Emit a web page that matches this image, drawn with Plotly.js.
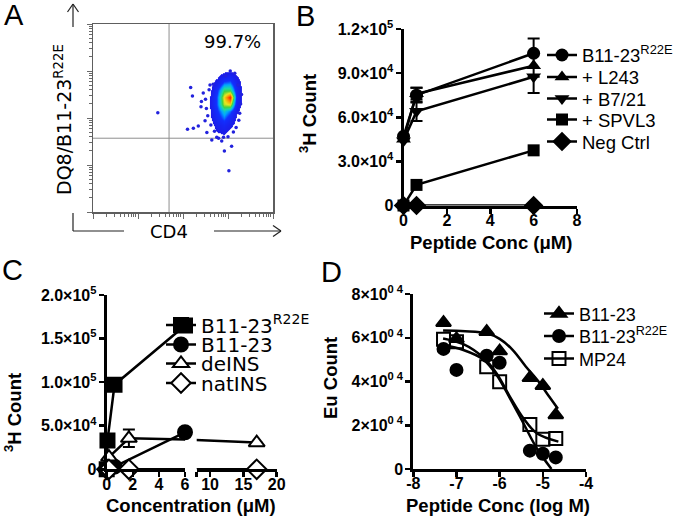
<!DOCTYPE html>
<html><head><meta charset="utf-8">
<script src="https://cdn.plot.ly/plotly-3.0.1.min.js"></script>
<style>
html,body{margin:0;padding:0;background:#fff;}
#chart{width:680px;height:523px;}
</style></head>
<body><div id="chart"></div>
<script>
// ================= DATA =================
// Panel A (flow cytometry, log10 decades)
const aRange = [0, 4];
const aGateX = 1.69;
const aGateY = 1.57;
const aPercent = '99.7%';
const aDensX = [2.45, 2.6, 2.75, 2.9, 3.05, 3.2, 3.35];
const aDensY = [1.55, 1.7, 1.85, 2.0, 2.15, 2.3, 2.45, 2.6, 2.75, 2.9, 3.05];
const aDensZ = [
  [0, 0, 0, 0, 0, 0, 0],
  [0, 0, 0.5, 0.8, 0.2, 0, 0],
  [0, 0, 1.0, 1.6, 0.9, 0, 0],
  [0, 0.3, 1.8, 3.0, 1.8, 0.3, 0],
  [0, 0.5, 2.3, 4.0, 3.0, 0.7, 0],
  [0, 0.6, 2.8, 6.0, 6.5, 1.2, 0],
  [0, 0.6, 2.8, 6.5, 8.6, 1.6, 0],
  [0, 0.3, 2.3, 5.0, 5.0, 1.5, 0],
  [0, 0, 1.1, 3.0, 3.2, 1.1, 0],
  [0, 0, 0.3, 1.2, 1.6, 0.6, 0],
  [0, 0, 0, 0, 0, 0, 0]
];
const aDotX = [2.17, 2.21, 2.45, 2.41, 2.40, 2.10, 2.23, 2.34, 2.49, 2.53, 2.64, 2.79, 2.90, 3.00, 2.86, 2.92, 3.08, 3.02, 2.60, 2.67, 2.75, 1.44,
               2.55, 2.52, 2.50, 2.58, 3.30, 3.28, 3.26, 3.22, 3.15, 3.05, 2.95, 3.24, 3.18, 2.62, 2.70, 3.12];
const aDotY = [2.65, 2.47, 2.53, 2.35, 2.24, 1.76, 1.78, 1.83, 1.94, 1.69, 1.53, 1.57, 1.59, 1.60, 1.51, 1.30, 1.40, 0.88, 2.70, 2.72, 1.59, 2.11,
               2.05, 2.20, 2.40, 2.60, 2.50, 2.30, 2.10, 2.70, 2.95, 3.00, 2.90, 1.95, 1.80, 1.85, 1.72, 1.70];

// Panel B (3H count vs peptide conc, µM)
const bX = [0, 0.6, 6];
const bR22E = [47000, 75000, 103500];
const bR22EErr = [0, 5000, 0];
const bL243 = [45000, 76000, 95000];
const bL243Err = [0, 4000, 18500];
const bB721 = [44000, 64000, 87500];
const bB721Err = [0, 6500, 0];
const bSPVL3 = [0, 14000, 37500];
const bNeg = [0, 0, 0];
const bXTicks = [0, 2, 4, 6, 8];
const bYTicks = [0, 30000, 60000, 90000, 120000];
const bYLabels = ['0', '3.0×10<sup>4</sup>', '6.0×10<sup>4</sup>', '9.0×10<sup>4</sup>', '1.2×10<sup>5</sup>'];

// Panel C (3H count vs concentration, µM; broken x axis)
const cXPep = [0, 0.06, 0.6, 6];
const cXIns = [0.017, 0.17, 1.7, 17];
const cR22E = [0, 33000, 97000, 165000];
const cB1123 = [0, 500, 3000, 42500];
const cDeINS = [1000, 14000, 35600, 30600];
const cDeINSErr = [0, 0, 10000, 0];
const cNatINS = [0, 0, 0, 0];
const cXTicksL = [0, 2, 4, 6];
const cXTicksR = [8, 10, 15, 20];
const cXLabelsR = ['', '10', '15', '20'];
const cYTicks = [0, 50000, 100000, 150000, 200000];
const cYLabels = ['0', '5.0×10<sup>4</sup>', '1.0×10<sup>5</sup>', '1.5×10<sup>5</sup>', '2.0×10<sup>5</sup>'];

// Panel D (Eu count vs log peptide conc)
const dX = [-7.3, -7.0, -6.3, -6.0, -5.3, -5.0, -4.7];
const dB1123 = [66900, 59500, 62800, 53900, 41700, 38100, 24700];
const dR22E = [54900, 45300, 51800, 48600, 8400, 7000, 5300];
const dMP24 = [59300, 58200, 46800, 39900, 20400, 13600, 14000];
const dFitB1123X = [-7.31, -6.8, -6.3, -6.0, -5.7, -5.4, -5.1, -4.85, -4.65];
const dFitB1123Y = [63300, 63000, 62000, 59500, 54500, 47000, 40000, 33000, 27500];
const dFitMP24X = [-7.31, -6.84, -6.38, -6.07, -5.76, -5.45, -5.14, -4.64];
const dFitMP24Y = [59700, 57100, 51000, 43700, 33000, 23200, 16300, 12500];
const dFitR22EX = [-7.31, -6.84, -6.38, -6.07, -5.76, -5.45, -5.14, -4.80];
const dFitR22EY = [56700, 54400, 50100, 43000, 32300, 20900, 9500, 0];
const dXTicks = [-8, -7, -6, -5, -4];
const dYTicks = [0, 20000, 40000, 60000, 80000];
const dYLabels = ['0', '2×10<sup>0 4</sup>', '4×10<sup>0 4</sup>', '6×10<sup>0 4</sup>', '8×10<sup>0 4</sup>'];

// ================= HELPERS / STYLE =================
const W = 680, H = 523;
const px = v => v / W;
const py = v => 1 - v / H;
const SANS = '"Liberation Sans", Arial, sans-serif';
const WIDE = '"DejaVu Sans", Verdana, sans-serif';
const FLOW = '"DejaVu Sans", Verdana, sans-serif';
const TICKFONT = {family: SANS, size: 16, color: 'black', weight: 'bold'};
const TITLEFONT = {family: SANS, size: 18.5, color: 'black', weight: 'bold'};
const LETTERFONT = {family: SANS, size: 29, color: 'black'};
const sep = arr => arr.flatMap((v, i) => i < arr.length - 1 ? [v, null] : [v]);

function prismAxis(domain, range, anchor, tickvals, ticktext, isX) {
  return {
    domain, range, anchor, tickmode: 'array', tickvals,
    ticktext: ticktext || tickvals.map(String),
    showline: true, linecolor: 'black', linewidth: 3,
    ticks: 'outside', ticklen: 5, tickwidth: 2.5, tickcolor: 'black',
    ticklabelstandoff: isX ? -7 : -1,
    tickfont: TICKFONT, showgrid: false, zeroline: false, fixedrange: true,
    layer: 'above traces'
  };
}

const minorVals = [];
for (let d = aRange[0]; d < aRange[1]; d++) for (let k = 2; k <= 9; k++) minorVals.push(d + Math.log10(k));
function flowAxis(domain) {
  return {
    domain, range: aRange, tickmode: 'array', tickvals: [0, 1, 2, 3, 4],
    showticklabels: false, showline: true, mirror: true, linecolor: '#5e5e5e', linewidth: 1.5,
    ticks: 'outside', ticklen: 5, tickwidth: 1, tickcolor: '#6a6a6a',
    minor: {tickmode: 'array', tickvals: minorVals, ticks: 'outside', ticklen: 3, tickwidth: 1, tickcolor: '#6a6a6a', showgrid: false},
    showgrid: false, zeroline: false, fixedrange: true
  };
}

// one legend box per entry so the rows keep the reference's tight spacing
const legends = {};
let legendCount = 0;
function legendAt(symbolX, rowY, font) {
  legendCount += 1;
  const id = legendCount === 1 ? 'legend' : 'legend' + legendCount;
  const h = 1.3 * font.size + 3;
  legends[id] = {x: px(symbolX - 20), y: py(rowY - 5 - h / 2), xanchor: 'left', yanchor: 'top',
    bgcolor: 'rgba(0,0,0,0)', borderwidth: 0, itemsizing: 'trace', font};
  return id;
}
const LEGB = {family: SANS, size: 18.5, color: 'black'};
const LEGC = {family: WIDE, size: 20, color: 'black'};
const LEGD = {family: SANS, size: 18, color: 'black'};

// ================= TRACES =================
const traces = [];
// Panel A
traces.push({type: 'heatmap', x: aDensX, y: aDensY, z: aDensZ, xaxis: 'x', yaxis: 'y',
  zsmooth: 'best', zmin: 0, zmax: 9, showscale: false, hoverinfo: 'skip', showlegend: false,
  colorscale: [[0, 'rgba(255,255,255,0)'], [0.06, 'rgba(255,255,255,0)'], [0.0601, '#1c1ce8'],
               [0.28, '#1230ff'], [0.38, '#00a8ff'], [0.5, '#20dca0'], [0.58, '#40d040'],
               [0.7, '#e8e820'], [0.82, '#ff8c00'], [0.92, '#ff3000'], [1, '#ff2000']]});
traces.push({type: 'scatter', mode: 'lines', xaxis: 'x', yaxis: 'y', showlegend: false, hoverinfo: 'skip',
  x: [aGateX, aGateX, null, aRange[0], aRange[1]], y: [aRange[0], aRange[1], null, aGateY, aGateY],
  line: {color: '#8e8e8e', width: 1}});
traces.push({type: 'scatter', mode: 'markers', xaxis: 'x', yaxis: 'y', showlegend: false,
  x: aDotX, y: aDotY, marker: {color: '#2222dd', size: 3.5}});

// Panel B
const bSeries = [
  {name: 'B11-23<sup>R22E</sup>', y: bR22E, err: bR22EErr, symbol: 'circle', size: 13, row: 55},
  {name: '+ L243', y: bL243, err: bL243Err, symbol: 'triangle-up', size: 13, row: 77},
  {name: '+ B7/21', y: bB721, err: bB721Err, symbol: 'triangle-down', size: 13, row: 98.5},
  {name: '+ SPVL3', y: bSPVL3, err: null, symbol: 'square', size: 12, row: 119.5},
  {name: 'Neg Ctrl', y: bNeg, err: null, symbol: 'diamond', size: 15, row: 141.5}
];
bSeries.forEach(s => traces.push({
  type: 'scatter', mode: 'lines+markers', name: s.name, legend: legendAt(562, s.row, LEGB),
  x: bX, y: s.y, xaxis: 'x2', yaxis: 'y2', cliponaxis: false,
  line: {color: 'black', width: 2.5},
  marker: {symbol: s.symbol, size: s.size, color: 'black'},
  error_y: s.err ? {type: 'data', array: s.err, visible: true, color: 'black', thickness: 2, width: 6} : {visible: false}
}));

// Panel C (left & right segments of broken axis)
const cSeries = [
  {name: 'B11-23<sup>R22E</sup>', x: cXPep, y: cR22E, err: null, symbol: 'square', size: 14, fill: 'black', row: 325},
  {name: 'B11-23', x: cXPep, y: cB1123, err: null, symbol: 'circle', size: 14, fill: 'black', row: 344.5},
  {name: 'deINS', x: cXIns, y: cDeINS, err: cDeINSErr, symbol: 'triangle-up', size: 14, fill: 'white', row: 363.5},
  {name: 'natINS', x: cXIns, y: cNatINS, err: null, symbol: 'diamond', size: 15, fill: 'white', row: 383}
];
cSeries.forEach(s => { s.legend = legendAt(181, s.row, LEGC); });
['x3', 'x4'].forEach((xa, k) => cSeries.forEach(s => traces.push({
  type: 'scatter', mode: 'lines+markers', name: s.name, legend: s.legend, showlegend: k === 0,
  x: s.x, y: s.y, xaxis: xa, yaxis: 'y3', cliponaxis: false,
  line: {color: 'black', width: 2.5},
  marker: {symbol: s.symbol, size: s.size, color: s.fill, line: {color: 'black', width: 2}},
  error_y: s.err ? {type: 'data', array: s.err, visible: true, color: 'black', thickness: 2, width: 6} : {visible: false}
})));

// Panel D: fitted curves then points
[[dFitB1123X, dFitB1123Y], [dFitR22EX, dFitR22EY], [dFitMP24X, dFitMP24Y]].forEach(f => traces.push({
  type: 'scatter', mode: 'lines', x: f[0], y: f[1], xaxis: 'x5', yaxis: 'y5', showlegend: false,
  line: {color: 'black', width: 2.5, shape: 'spline', smoothing: 1}, hoverinfo: 'skip'
}));
const dSeries = [
  {name: 'B11-23', y: dB1123, symbol: 'triangle-up', size: 13, row: 313.5},
  {name: 'B11-23<sup>R22E</sup>', y: dR22E, symbol: 'circle', size: 12, row: 336},
  {name: 'MP24', y: dMP24, symbol: 'square-open', size: 13, row: 358.5}
];
dSeries.forEach(s => traces.push({
  type: 'scatter', mode: 'lines+markers', name: s.name, legend: legendAt(559, s.row, LEGD),
  x: sep(dX), y: sep(s.y), connectgaps: false, xaxis: 'x5', yaxis: 'y5', cliponaxis: false,
  line: {color: 'black', width: 2.5},
  marker: {symbol: s.symbol, size: s.size, color: 'black', line: {color: 'black', width: 2}}
}));

// ================= LAYOUT =================
const ann = (text, x, y, font, extra) => Object.assign({text, x: px(x), y: py(y), xref: 'paper', yref: 'paper',
  xanchor: 'center', yanchor: 'middle', showarrow: false, font}, extra || {});
const annotations = [
  ann('A', 14, 15, LETTERFONT), ann('B', 305, 16, LETTERFONT),
  ann('C', 12, 270, LETTERFONT), ann('D', 331, 272, LETTERFONT),
  {text: aPercent, x: 3.11, y: 3.62, xref: 'x', yref: 'y', showarrow: false,
   font: {family: FLOW, size: 18, color: 'black'}},
  ann('DQ8/B11-23<sup>R22E</sup>', 63, 120, {family: FLOW, size: 19, color: 'black'}, {textangle: -90}),
  ann('CD4', 169, 231, {family: FLOW, size: 18, color: 'black'}),
  ann('<sup>3</sup>H Count', 308, 114, TITLEFONT, {textangle: -90}),
  ann('Peptide Conc (μM)', 491, 242, TITLEFONT),
  ann('<sup>3</sup>H Count', 13, 413, TITLEFONT, {textangle: -90}),
  ann('Concentration (μM)', 191, 505, TITLEFONT),
  ann('Eu Count', 330, 378, TITLEFONT, {textangle: -90}),
  ann('Peptide Conc (log M)', 498, 505, TITLEFONT)
];
const ln = (x0, y0, x1, y1) => ({type: 'line', xref: 'paper', yref: 'paper',
  x0: px(x0), y0: py(y0), x1: px(x1), y1: py(y1), line: {color: '#222', width: 1.2}});
const shapes = [
  ln(73, 27, 73, 4), ln(73, 4, 67.5, 12), ln(73, 4, 78.5, 12),
  ln(73, 213, 73, 231), ln(73, 231, 124, 231),
  ln(214, 231, 281, 231), ln(281, 231, 273, 225.5), ln(281, 231, 273, 236.5)
];

const layout = Object.assign({
  width: W, height: H,
  margin: {l: 0, r: 0, t: 0, b: 0, pad: 0, autoexpand: false},
  paper_bgcolor: 'white', plot_bgcolor: 'rgba(0,0,0,0)',
  font: {family: SANS, color: 'black'},
  showlegend: true,
  xaxis: Object.assign(flowAxis([px(93), px(273)]), {anchor: 'y'}),
  yaxis: Object.assign(flowAxis([py(212), py(24)]), {anchor: 'x'}),
  xaxis2: prismAxis([px(403.5), px(577)], [0, 8], 'y2', bXTicks, null, true),
  yaxis2: prismAxis([py(205.5), py(29)], [0, 120000], 'x2', bYTicks, bYLabels),
  xaxis3: prismAxis([px(106.7), px(185)], [0, 6], 'y3', cXTicksL, null, true),
  xaxis4: prismAxis([px(196.7), px(276.7)], [8, 20], 'y3', cXTicksR, cXLabelsR, true),
  yaxis3: prismAxis([py(469.3), py(295)], [0, 200000], 'x3', cYTicks, cYLabels),
  xaxis5: prismAxis([px(413.3), px(586)], [-8, -4], 'y5', dXTicks, null, true),
  yaxis5: prismAxis([py(469), py(294)], [0, 80000], 'x5', dYTicks, dYLabels),
  annotations, shapes
}, legends);

Plotly.newPlot('chart', traces, layout, {staticPlot: true, displayModeBar: false});
</script></body></html>
